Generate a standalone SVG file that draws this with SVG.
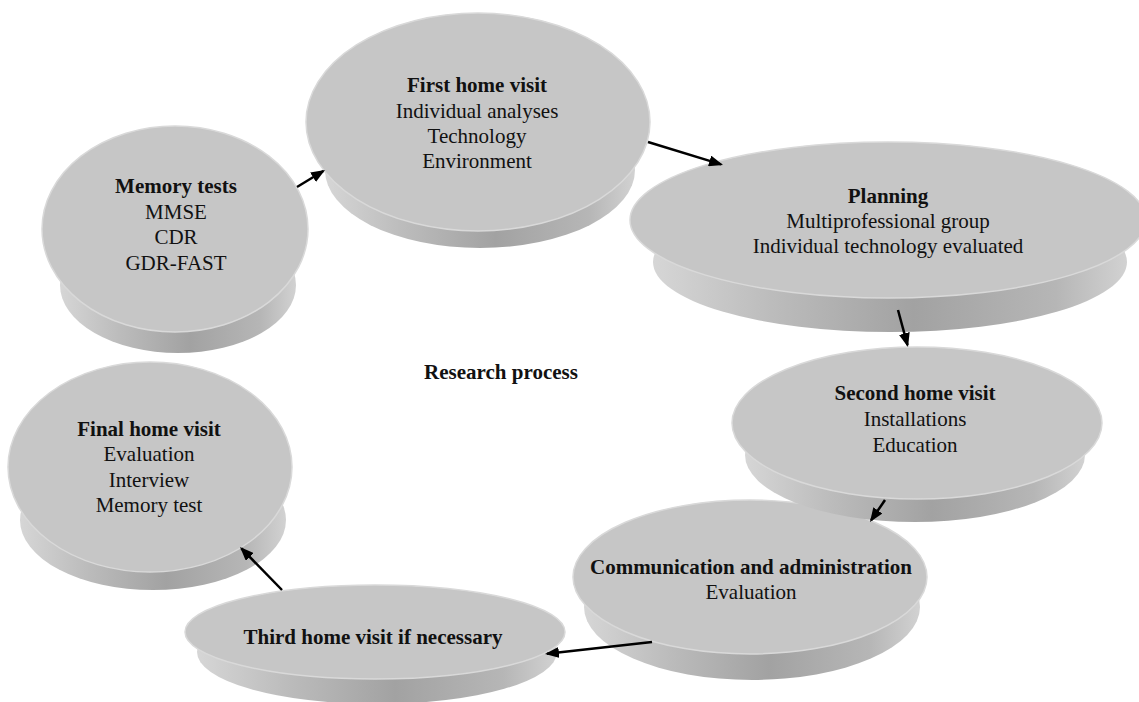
<svg xmlns="http://www.w3.org/2000/svg" width="1139" height="702" viewBox="0 0 1139 702">
<defs>
<linearGradient id="side" x1="0" y1="0" x2="1" y2="0">
<stop offset="0" stop-color="#d6d6d6"/>
<stop offset="0.25" stop-color="#bcbcbc"/>
<stop offset="0.55" stop-color="#a2a2a2"/>
<stop offset="0.85" stop-color="#b6b6b6"/>
<stop offset="1" stop-color="#d2d2d2"/>
</linearGradient>
<marker id="ah" markerWidth="14" markerHeight="11" refX="12" refY="5.5" orient="auto" markerUnits="userSpaceOnUse">
<path d="M0,0 L14,5.5 L0,11 z" fill="#000"/>
</marker>
</defs>
<style>
.side{fill:url(#side);}
.top{fill:#c6c6c6;stroke:#d9d9d9;stroke-width:1.5;}
text{font-family:"Liberation Serif","Times New Roman",serif;font-size:21px;fill:#111;text-anchor:middle;}
.b{font-weight:bold;}
.conn line{stroke:#000;stroke-width:2.5;marker-end:url(#ah);}
</style>
<rect width="1139" height="702" fill="#fff"/>

<g id="memory-tests">
<ellipse class="side" cx="178" cy="285" rx="118" ry="68"/>
<ellipse class="top" cx="175" cy="229" rx="133" ry="103"/>
<text class="b" x="176" y="193">Memory tests</text>
<text x="176" y="219">MMSE</text>
<text x="176" y="244">CDR</text>
<text x="176" y="270">GDR-FAST</text>
</g>

<g id="first-home-visit">
<ellipse class="side" cx="480" cy="170" rx="155" ry="78"/>
<ellipse class="top" cx="478" cy="122" rx="172" ry="109"/>
<text class="b" x="477" y="92">First home visit</text>
<text x="477" y="117.5">Individual analyses</text>
<text x="477" y="143">Technology</text>
<text x="477" y="168">Environment</text>
</g>

<g id="planning">
<ellipse class="side" cx="890" cy="262" rx="237" ry="70"/>
<ellipse class="top" cx="888" cy="220" rx="258" ry="78"/>
<text class="b" x="888" y="203">Planning</text>
<text x="888" y="228">Multiprofessional group</text>
<text x="888" y="253">Individual technology evaluated</text>
</g>

<g id="communication-and-administration">
<ellipse class="side" cx="752" cy="607" rx="168" ry="73"/>
<ellipse class="top" cx="750" cy="577" rx="177" ry="77"/>
<text class="b" x="751" y="574">Communication and administration</text>
<text x="751" y="599">Evaluation</text>
</g>

<g id="second-home-visit">
<ellipse class="side" cx="915" cy="455" rx="170" ry="67"/>
<ellipse class="top" cx="917" cy="423" rx="185" ry="76"/>
<text class="b" x="915" y="400">Second home visit</text>
<text x="915" y="426">Installations</text>
<text x="915" y="452">Education</text>
</g>

<g id="third-home-visit">
<ellipse class="side" cx="377" cy="652" rx="180" ry="52"/>
<ellipse class="top" cx="375" cy="632" rx="190" ry="47"/>
<text class="b" x="373" y="644">Third home visit if necessary</text>
</g>

<g id="final-home-visit">
<ellipse class="side" cx="153" cy="520" rx="133" ry="70"/>
<ellipse class="top" cx="150" cy="467" rx="142" ry="105"/>
<text class="b" x="149" y="436">Final home visit</text>
<text x="149" y="461">Evaluation</text>
<text x="149" y="487">Interview</text>
<text x="149" y="512">Memory test</text>
</g>

<g id="research-process-label">
<text class="b" x="501" y="379">Research process</text>
</g>

<g class="conn" id="connectors">
<line x1="297" y1="187" x2="323.3" y2="171"/>
<line x1="648" y1="142" x2="721.1" y2="164.4"/>
<line x1="898" y1="310" x2="907.5" y2="345.1"/>
<line x1="885" y1="500" x2="871.1" y2="520.3"/>
<line x1="652" y1="642" x2="547" y2="653.8"/>
<line x1="282" y1="590" x2="241.4" y2="548.4"/>
</g>
</svg>
